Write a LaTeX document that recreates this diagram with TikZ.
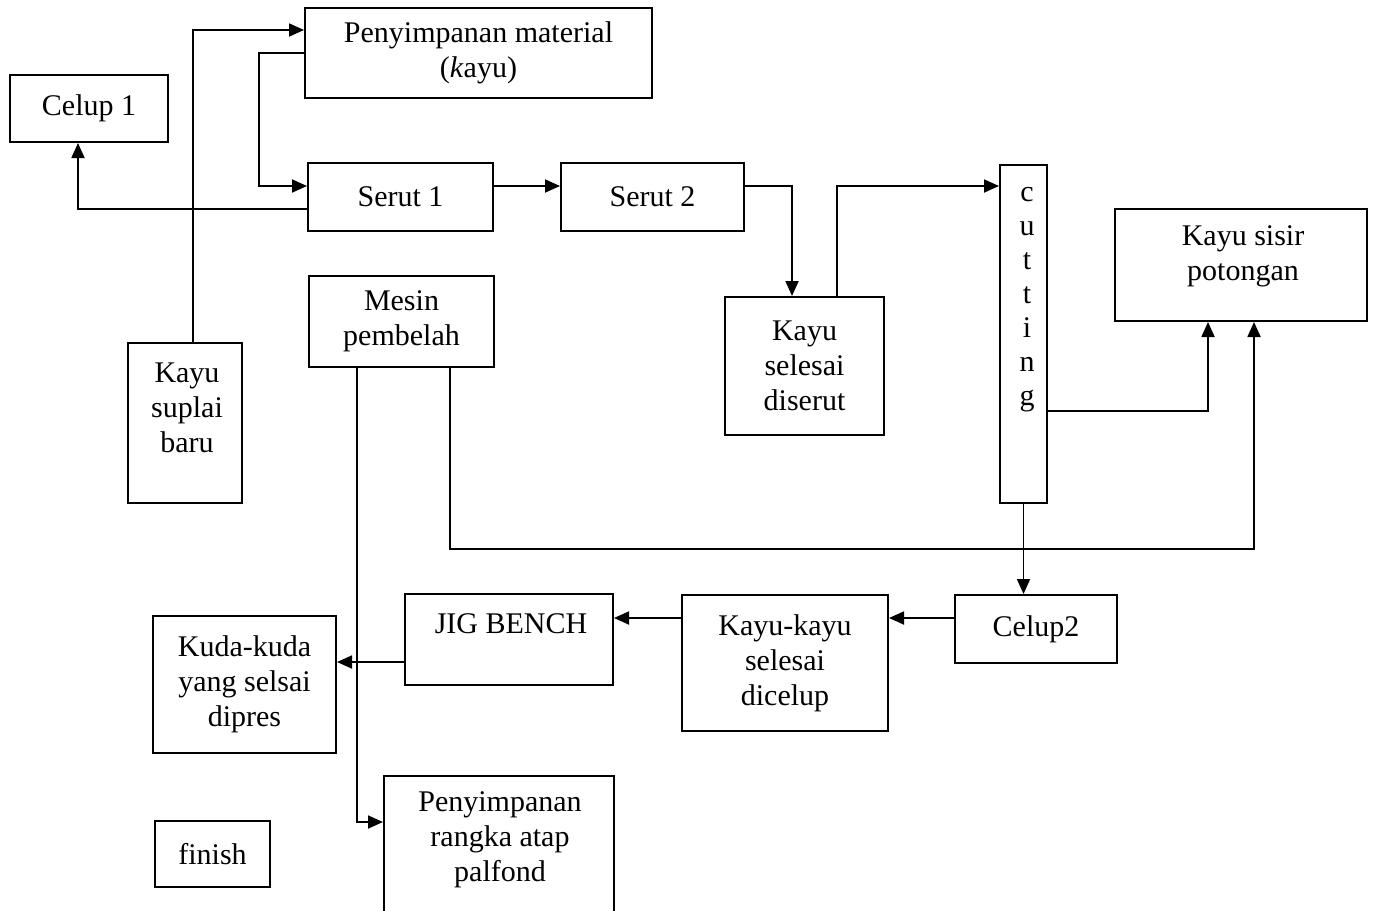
\documentclass[tikz,border=0pt]{standalone}
\usepackage{fontspec}
\setmainfont{Liberation Serif}
\usetikzlibrary{arrows.meta}
\begin{document}
\begin{tikzpicture}[x=0.5pt,y=-0.5pt,
  box/.style={draw,line width=1pt,inner sep=0pt,align=center,
    font=\fontsize{15}{17.5}\selectfont},
  txt/.style={inner sep=0pt,align=center,font=\fontsize{15}{17.5}\selectfont},
  arr/.style={line width=0.9pt,-{Triangle[length=7.5pt,width=6.5pt]}},
  ln/.style={line width=0.9pt}]
\useasboundingbox (0,0) rectangle (1374,910);
% boxes
\node[box,minimum width=173.5pt,minimum height=45pt] (pm) at (478.5,53) {Penyimpanan material\\(\textit{k}ayu)};
\node[box,minimum width=79pt,minimum height=33.5pt] (c1) at (89,108.5) {Celup 1};
\node[box,minimum width=92.5pt,minimum height=34pt] (s1) at (400.5,197) {Serut 1};
\node[box,minimum width=91.5pt,minimum height=34pt] (s2) at (652.5,197) {Serut 2};
\node[box,minimum width=23.5pt,minimum height=169pt] (cut) at (1023.5,334) {};
\node[txt,font=\fontsize{15}{17}\selectfont] (cuttxt) at (1027,300) {c\\u\\t\\t\\i\\n\\g};
\node[box,minimum width=126pt,minimum height=56pt] (kss) at (1241,265) {};
\node[txt] (ksstxt) at (1243,256) {Kayu sisir\\potongan};
\node[box,minimum width=92.5pt,minimum height=45.5pt] (mp) at (401.5,321.5) {Mesin\\pembelah};
\node[box,minimum width=79.5pt,minimum height=69pt] (ksd) at (804.5,366) {Kayu\\selesai\\diserut};
\node[box,minimum width=57pt,minimum height=80pt] (ksb) at (185,423) {};
\node[txt] (ksbtxt) at (187,408) {Kayu\\suplai\\baru};
\node[box,minimum width=81pt,minimum height=34pt] (c2) at (1036,629) {Celup2};
\node[box,minimum width=103pt,minimum height=68pt] (kkd) at (785,663) {Kayu-kayu\\selesai\\dicelup};
\node[box,minimum width=104pt,minimum height=45.5pt] (jig) at (509,639.5) {};
\node[txt] (jigtxt) at (511,624) {JIG BENCH};
\node[box,minimum width=91.5pt,minimum height=68.5pt] (kuda) at (244.5,684.5) {Kuda-kuda\\yang selsai\\dipres};
\node[box,minimum width=115pt,minimum height=82pt] (prap) at (499,858) {};
\node[txt] (praptxt) at (500,840) {Penyimpanan\\rangka atap\\palfond};
\node[box,minimum width=57.5pt,minimum height=33pt] (fin) at (212.5,854) {finish};
% connectors
\draw[arr] ([xshift=4pt]ksb.north) |- ([yshift=11.5pt]pm.west);
\draw[arr] (pm.west) -- ++(-45,0) |- ([yshift=5.5pt]s1.west);
\draw[arr] ([yshift=-6pt]s1.west) -| ([xshift=-5.5pt]c1.south);
\draw[arr] ([yshift=5.5pt]s1.east) -- ([yshift=5.5pt]s2.west);
\draw[arr] ([yshift=5.5pt]s2.east) -| ([xshift=-6.25pt]ksd.north);
\draw[arr] ([xshift=16.25pt]ksd.north) |- ([yshift=74pt]cut.west);
\draw[arr] ([yshift=-38.5pt]cut.east) -| ([xshift=-16.5pt]kss.south);
\draw[arr] ([xshift=24.25pt]mp.south) -- ++(0,181) -| ([xshift=6.5pt]kss.south);
\draw[arr] (cut.south) -- (cut.south |- c2.north);
\draw[arr] ([yshift=5.5pt]c2.west) -- ([yshift=5.5pt]c2.west -| kkd.east);
\draw[arr] ([yshift=22.5pt]kkd.west) -- ([yshift=22.5pt]kkd.west -| jig.east);
\draw[arr] ([yshift=-11.25pt]jig.west) -- ([yshift=-11.25pt]jig.west -| kuda.east);
\draw[arr] ([xshift=-22.25pt]mp.south) |- ([yshift=18pt]prap.west);
\end{tikzpicture}
\end{document}
